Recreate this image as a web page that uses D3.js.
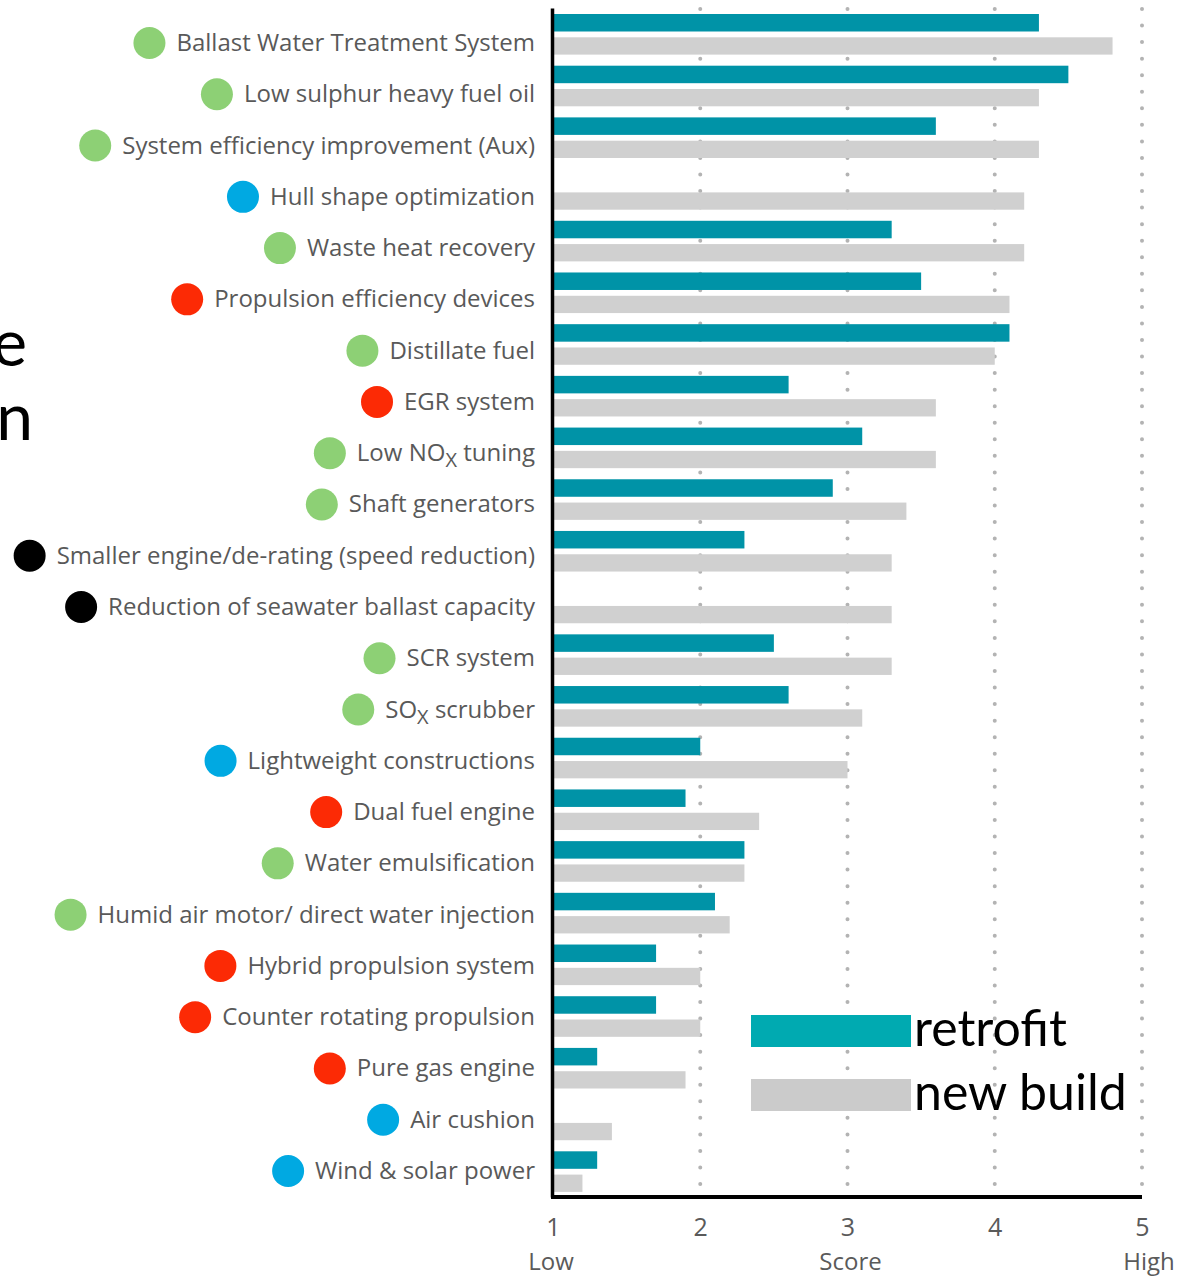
<!DOCTYPE html>
<html>
<head>
<meta charset="utf-8">
<script src="https://cdn.jsdelivr.net/npm/d3@7"></script>
<style>
  html, body { margin: 0; padding: 0; background: #fff; }
  svg { display: block; }
</style>
</head>
<body>
<svg id="chart" width="1177" height="1276"></svg>
<script>
// Measures, top to bottom. "_X" marks a subscript X.
const categories = [
  "Ballast Water Treatment System",
  "Low sulphur heavy fuel oil",
  "System efficiency improvement (Aux)",
  "Hull shape optimization",
  "Waste heat recovery",
  "Propulsion efficiency devices",
  "Distillate fuel",
  "EGR system",
  "Low NO_X tuning",
  "Shaft generators",
  "Smaller engine/de-rating (speed reduction)",
  "Reduction of seawater ballast capacity",
  "SCR system",
  "SO_X scrubber",
  "Lightweight constructions",
  "Dual fuel engine",
  "Water emulsification",
  "Humid air motor/ direct water injection",
  "Hybrid propulsion system",
  "Counter rotating propulsion",
  "Pure gas engine",
  "Air cushion",
  "Wind & solar power"
];

// Measure type (drawn as the coloured marker before each label)
const measureType = [
  "fuel", "fuel", "fuel", "hull", "fuel", "engine", "fuel", "engine",
  "fuel", "fuel", "operation", "operation", "fuel", "fuel", "hull",
  "engine", "fuel", "fuel", "engine", "engine", "engine", "hull", "hull"
];

// Scores (1 = low, 5 = high); null = not scored
const retrofit = [4.3, 4.5, 3.6, null, 3.3, 3.5, 4.1, 2.6, 3.1, 2.9, 2.3, null,
                  2.5, 2.6, 2.0, 1.9, 2.3, 2.1, 1.7, 1.7, 1.3, null, 1.3];
const newBuild = [4.8, 4.3, 4.3, 4.2, 4.2, 4.1, 4.0, 3.6, 3.6, 3.4, 3.3, 3.3,
                  3.3, 3.1, 3.0, 2.4, 2.3, 2.2, 2.0, 2.0, 1.9, 1.4, 1.2];

const xTicks = [1, 2, 3, 4, 5];
const seriesNames = ["retrofit", "new build"];
const axisWords = ["Low", "Score", "High"];
const edgeLetters = ["e", "n"];

const svg = d3.select("#chart");
const labelFont = "'Open Sans', 'Noto Sans', sans-serif";
const bigFont = "Lato, 'Open Sans', sans-serif";

const x = d3.scaleLinear().domain([1, 5]).range([553, 1142]);
const y = d3.scaleBand().domain(categories).range([8, 1197]).paddingInner(0);
const yLabel = d3.scalePoint().domain(categories).range([42, 1170]);
const typeColor = d3.scaleOrdinal()
  .domain(["fuel", "hull", "engine", "operation"])
  .range(["#8dd075", "#00a9e2", "#fc2a05", "#000000"]);

// dotted grid lines
svg.append("g")
  .selectAll("line")
  .data(xTicks.slice(1))
  .join("line")
  .attr("x1", d => x(d)).attr("x2", d => x(d))
  .attr("y1", 9).attr("y2", 1197)
  .attr("stroke", "#b3b3b3")
  .attr("stroke-width", 4)
  .attr("stroke-linecap", "round")
  .attr("stroke-dasharray", "0,16.55");

// bars
const rows = categories.map((c, i) => ({ c, r: retrofit[i], n: newBuild[i], t: measureType[i] }));

svg.append("g")
  .selectAll("rect")
  .data(rows.filter(d => d.r != null))
  .join("rect")
  .attr("x", x(1))
  .attr("y", d => y(d.c) + 6)
  .attr("width", d => x(d.r) - x(1))
  .attr("height", 17.5)
  .attr("fill", "#0093a7");

svg.append("g")
  .selectAll("rect")
  .data(rows.filter(d => d.n != null))
  .join("rect")
  .attr("x", x(1))
  .attr("y", d => y(d.c) + 29.3)
  .attr("width", d => x(d.n) - x(1))
  .attr("height", 17.3)
  .attr("fill", "#d0d0d0");

// axes
const xAxis = svg.append("g")
  .attr("transform", "translate(0,1197)")
  .call(d3.axisBottom(x).tickValues(xTicks).tickFormat(d3.format("d")).tickSize(0).tickPadding(21));
xAxis.select(".domain").attr("stroke", "#000").attr("stroke-width", 4)
  .attr("d", `M${x(1) - 2},0H${x(5)}`);
xAxis.selectAll("text")
  .attr("font-family", labelFont).attr("font-size", 25).attr("fill", "#5a5a5a");

const yAxis = svg.append("g")
  .attr("transform", `translate(${x(1) - 1},0)`)
  .call(d3.axisLeft(y).tickValues([]).tickSizeOuter(0));
yAxis.select(".domain").attr("stroke", "#000").attr("stroke-width", 3.5);

// axis words under the ticks
svg.append("g")
  .selectAll("text")
  .data(axisWords)
  .join("text")
  .attr("x", (d, i) => [x(1) - 2, x(3) + 3, x(5) + 7][i])
  .attr("y", 1270)
  .attr("text-anchor", "middle")
  .attr("font-family", labelFont).attr("font-size", 24).attr("fill", "#5a5a5a")
  .text(d => d);

// category labels with subscripts
const labels = svg.append("g")
  .selectAll("text")
  .data(rows)
  .join("text")
  .attr("x", 535)
  .attr("y", d => yLabel(d.c) + 9)
  .attr("text-anchor", "end")
  .attr("font-family", labelFont).attr("font-size", 24).attr("fill", "#595959");

labels.each(function (d) {
  const t = d3.select(this);
  let shift = 0;
  d.c.split(/(_X)/).forEach(part => {
    if (part === "_X") {
      t.append("tspan").attr("font-size", 20).attr("dy", 6).text("X");
      shift = -6;
    } else if (part) {
      t.append("tspan").attr("dy", shift).text(part);
      shift = 0;
    }
  });
  d.w = this.getComputedTextLength();
});

// markers
svg.append("g")
  .selectAll("circle")
  .data(rows)
  .join("circle")
  .attr("cx", d => 535 - d.w - 27)
  .attr("cy", d => yLabel(d.c) + 1)
  .attr("r", 16)
  .attr("fill", d => typeColor(d.t));

// legend
const legend = svg.append("g");
const legendColor = ["#00aab1", "#cbcbcb"];
legend.selectAll("rect")
  .data(seriesNames)
  .join("rect")
  .attr("x", 751).attr("y", (d, i) => 1015 + i * 64)
  .attr("width", 160).attr("height", 32)
  .attr("fill", (d, i) => legendColor[i]);
legend.selectAll("text")
  .data(seriesNames)
  .join("text")
  .attr("x", 914).attr("y", (d, i) => 1046 + i * 64)
  .attr("font-family", bigFont).attr("font-size", 50).attr("fill", "#000")
  .text(d => d);

// clipped letters at the left edge
svg.append("g")
  .selectAll("text")
  .data(edgeLetters)
  .join("text")
  .attr("x", (d, i) => [27, 33][i])
  .attr("y", (d, i) => [366, 440][i])
  .attr("text-anchor", "end")
  .attr("font-family", bigFont).attr("font-size", 66).attr("fill", "#000")
  .text(d => d);
</script>
</body>
</html>
